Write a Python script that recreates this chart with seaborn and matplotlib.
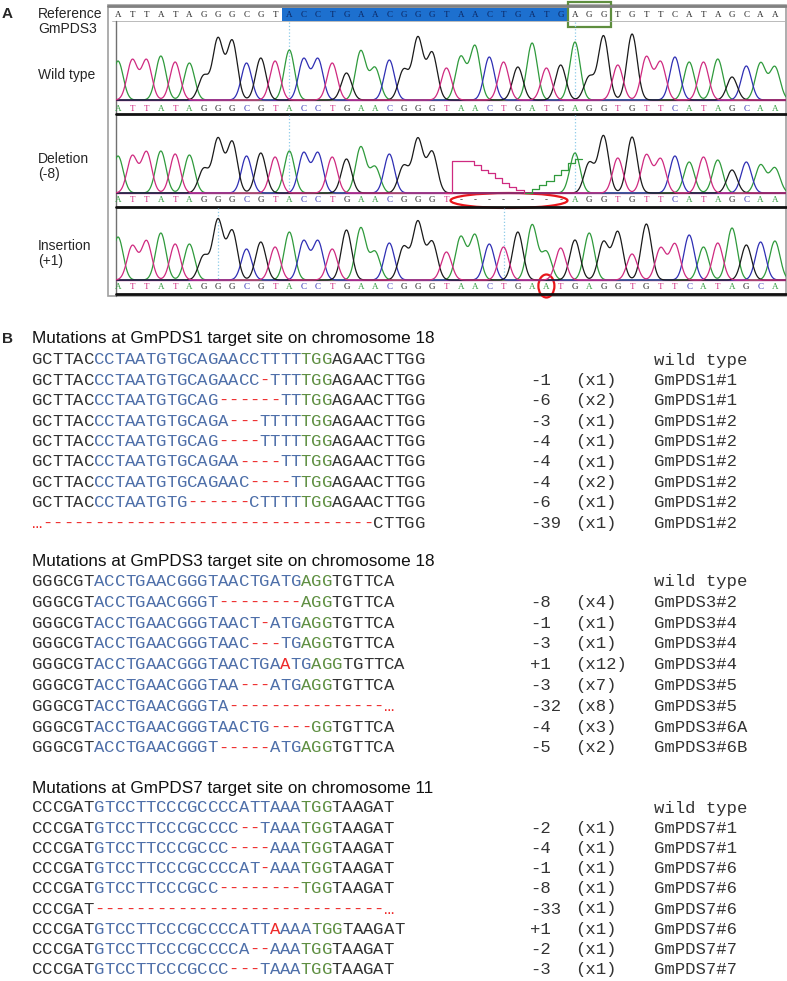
import numpy as np
import pandas as pd
import matplotlib
matplotlib.use("Agg")
import matplotlib.pyplot as plt
import seaborn as sns
from matplotlib.patches import Rectangle, Ellipse

W, H = 787, 981

# ---------- panel A: Sanger traces at the GmPDS3 target ----------
ref_seq = "ATTATAGGGCGTACCTGAACGGGTAACTGATGAGGTGTTCATAGCAA"
wt_calls = "ATTATAGGGCGTACCTGAACGGGTAACTGATGAGGTGTTCATAGCAA"
del_calls = "ATTATAGGGCGTACCTGAACGGGT--------AGGTGTTCATAGCAA"
ins_calls = "ATTATAGGGCGTACCTGAACGGGTAACTGAATGAGGTGTTCATAGCA"

# peak heights (pixels above baseline)
wt_peaks = [39, 40, 40, 44, 38, 37, 24, 61, 59, 37, 42, 39, 50, 41, 41, 37, 27, 49, 32, 40,
            30, 62, 47, 32, 43, 54, 43, 38, 33, 57, 32, 35, 58, 23, 64, 35, 66, 43, 38, 43,
            38, 38, 41, 23, 34, 37, 33]
del_peaks = [37, 37, 41, 42, 39, 38, 24, 54, 51, 37, 40, 36, 42, 40, 40, 36, 34, 46, 26, 39,
             27, 54, 41, None, None, None, None, None, None, None, None, None,
             40, 30, 57, 35, 56, 38, 34, 37, 31, 36, 33, 23, 31, 28, 25]
ins_peaks = [43, 34, 39, 47, 36, 36, 24, 60, 49, 31, 38, 33, 48, 39, 39, 31, 50, 52, 28, 37,
             33, 58, 38, 28, 43, 45, 36, 33, 48, 55, 28, 32, 40, 47, 38, 48, 26, 56, 32, 36,
             45, 33, 37, 52, 35, 38, 39]
# mixed-signal shoulders across the 8 bp deletion (half-base steps)
del_shoulder_t = [0, 32, 32, 32, 28, 23, 20, 15, 10, 6, 3, 0]
del_shoulder_a = [0, 4, 8, 12, 18, 23, 30, 34, 34]

cut_guides = [(12, 32), (12, 32), (7, 27)]

# ---------- panel B: alignments ----------
pds1_title = "Mutations at GmPDS1 target site on chromosome 18"
pds1_rows = ["GCTTACCCTAATGTGCAGAACCTTTTTGGAGAACTTGG",
             "GCTTACCCTAATGTGCAGAACC-TTTTGGAGAACTTGG",
             "GCTTACCCTAATGTGCAG------TTTGGAGAACTTGG",
             "GCTTACCCTAATGTGCAGA---TTTTTGGAGAACTTGG",
             "GCTTACCCTAATGTGCAG----TTTTTGGAGAACTTGG",
             "GCTTACCCTAATGTGCAGAA----TTTGGAGAACTTGG",
             "GCTTACCCTAATGTGCAGAAC----TTGGAGAACTTGG",
             "GCTTACCCTAATGTG------CTTTTTGGAGAACTTGG",
             "…" + "-" * 32 + "CTTGG"]
pds1_change = ["", "-1", "-6", "-3", "-4", "-4", "-4", "-6", "-39"]
pds1_count = ["", "(x1)", "(x2)", "(x1)", "(x1)", "(x1)", "(x2)", "(x1)", "(x1)"]
pds1_line = ["wild type", "GmPDS1#1", "GmPDS1#1", "GmPDS1#2", "GmPDS1#2",
             "GmPDS1#2", "GmPDS1#2", "GmPDS1#2", "GmPDS1#2"]

pds3_title = "Mutations at GmPDS3 target site on chromosome 18"
pds3_rows = ["GGGCGTACCTGAACGGGTAACTGATGAGGTGTTCA",
             "GGGCGTACCTGAACGGGT--------AGGTGTTCA",
             "GGGCGTACCTGAACGGGTAACT-ATGAGGTGTTCA",
             "GGGCGTACCTGAACGGGTAAC---TGAGGTGTTCA",
             "GGGCGTACCTGAACGGGTAACTGAaTGAGGTGTTCA",
             "GGGCGTACCTGAACGGGTAA---ATGAGGTGTTCA",
             "GGGCGTACCTGAACGGGTA" + "-" * 15 + "…",
             "GGGCGTACCTGAACGGGTAACTG----GGTGTTCA",
             "GGGCGTACCTGAACGGGT-----ATGAGGTGTTCA"]
pds3_change = ["", "-8", "-1", "-3", "+1", "-3", "-32", "-4", "-5"]
pds3_count = ["", "(x4)", "(x1)", "(x1)", "(x12)", "(x7)", "(x8)", "(x3)", "(x2)"]
pds3_line = ["wild type", "GmPDS3#2", "GmPDS3#4", "GmPDS3#4", "GmPDS3#4",
             "GmPDS3#5", "GmPDS3#5", "GmPDS3#6A", "GmPDS3#6B"]

pds7_title = "Mutations at GmPDS7 target site on chromosome 11"
pds7_rows = ["CCCGATGTCCTTCCCGCCCCATTAAATGGTAAGAT",
             "CCCGATGTCCTTCCCGCCCC--TAAATGGTAAGAT",
             "CCCGATGTCCTTCCCGCCC----AAATGGTAAGAT",
             "CCCGATGTCCTTCCCGCCCCAT-AAATGGTAAGAT",
             "CCCGATGTCCTTCCCGCC--------TGGTAAGAT",
             "CCCGAT" + "-" * 28 + "…",
             "CCCGATGTCCTTCCCGCCCCATTaAAATGGTAAGAT",
             "CCCGATGTCCTTCCCGCCCCA--AAATGGTAAGAT",
             "CCCGATGTCCTTCCCGCCC---TAAATGGTAAGAT"]
pds7_change = ["", "-2", "-4", "-1", "-8", "-33", "+1", "-2", "-3"]
pds7_count = ["", "(x1)", "(x1)", "(x1)", "(x1)", "(x1)", "(x1)", "(x1)", "(x1)"]
pds7_line = ["wild type", "GmPDS7#1", "GmPDS7#1", "GmPDS7#6", "GmPDS7#6",
             "GmPDS7#6", "GmPDS7#6", "GmPDS7#7", "GmPDS7#7"]

base_colors = {"A": "#2f9a3c", "C": "#2f2fb4", "G": "#1a1a1a", "T": "#cf2a80"}
seq_black, seq_blue, seq_green, seq_red = "#333333", "#4e6fa9", "#5f8f42", "#ee2a2a"

sns.set_theme(style="white")
plt.rcParams["font.family"] = ["Liberation Sans", "DejaVu Sans"]
MONO = ["Liberation Mono", "DejaVu Sans Mono"]
SERIF = ["Liberation Serif", "DejaVu Serif"]

fig = plt.figure(figsize=(W / 100, H / 100), dpi=100)
ax = fig.add_axes([0, 0, 1, 1])
ax.set_xlim(0, W)
ax.set_ylim(H, 0)
ax.axis("off")


def px_axes(x0, y0, x1, y1):
    a = fig.add_axes([x0 / W, 1 - y1 / H, (x1 - x0) / W, (y1 - y0) / H])
    a.patch.set_alpha(0)
    a.axis("off")
    return a


def bx(i):
    return 118 + i * 14.28


# ---------------- panel A ----------------
ax.text(2, 18, "A", fontsize=11, fontweight="bold")
ax.text(38, 18, "Reference", fontsize=10)
ax.text(38, 33, "GmPDS3", fontsize=10)
ax.text(38, 79, "Wild type", fontsize=10)
ax.text(38, 163, "Deletion", fontsize=10)
ax.text(38, 178, "(-8)", fontsize=10)
ax.text(38, 250, "Insertion", fontsize=10)
ax.text(38, 265, "(+1)", fontsize=10)

# frames
ax.add_patch(Rectangle((108, 5), 678, 291, fill=False, ec="#a0a0a0", lw=1.2))
ax.plot([108, 786], [5.5, 5.5], color="#808080", lw=2)
ax.plot([112, 786], [21, 21], color="#b0b0b0", lw=0.6)
ax.plot([116, 116], [21, 296], color="#707070", lw=1.0)
ax.add_patch(Rectangle((bx(11.5), 7.5), bx(31.5) - bx(11.5), 13.5, color="#1d70cf", lw=0))
ax.add_patch(Rectangle((bx(31.5), 1.5), bx(34.5) - bx(31.5), 25, fill=False,
                       ec="#5e8e3e", lw=1.6))
for i, ch in enumerate(ref_seq):
    col = "#0b2560" if 12 <= i < 32 else "#222222"
    ax.text(bx(i), 15, ch, fontsize=6.5, family=SERIF, ha="center", va="center", color=col)

panel_rows = [(wt_calls, wt_peaks, 22, 102, 109, 114),
              (del_calls, del_peaks, 115, 195, 200, 207),
              (ins_calls, ins_peaks, 208, 282, 287, 294)]
for k, (calls, peaks, top, bot, ylet, yline) in enumerate(panel_rows):
    # letter calls under each trace
    for i, ch in enumerate(calls):
        ax.text(bx(i), ylet, ch, fontsize=6.5, family=SERIF, ha="center", va="center",
                color=base_colors.get(ch, "#222222"))
    ax.plot([116, 786], [yline, yline], color="#111111", lw=2)
    for g in cut_guides[k]:
        ax.plot([bx(g), bx(g)], [top, bot - 2], color="#8ccbe8", lw=0.9, ls=":")

    # trace
    xs = np.linspace(-0.6, 47.2, 1600)
    frames = []
    for base in "ACGT":
        sig = np.zeros_like(xs)
        for i, (c, h) in enumerate(zip(calls, peaks)):
            if c == base and h is not None:
                sig += h * np.exp(-0.5 * ((xs - i) / 0.36) ** 2)
        frames.append(pd.DataFrame({"pos": xs, "signal": sig, "base": base}))
    df = pd.concat(frames, ignore_index=True)
    tax = px_axes(116, top, 786, bot)
    tax.set_xlim((116 - 118) / 14.28, (786 - 118) / 14.28)
    tax.set_ylim(-2, (bot - top) - 2)
    tax.axhline(0, color="#b23a8a", lw=1.0)
    sns.lineplot(data=df, x="pos", y="signal", hue="base", palette=base_colors,
                 estimator=None, sort=False, lw=0.9, legend=False, ax=tax)
    if k == 1:
        xt = 22.9 + 0.5 * np.arange(len(del_shoulder_t))
        tax.step(xt, del_shoulder_t, where="post", color=base_colors["T"], lw=0.9)
        xa = 28.5 + 0.5 * np.arange(len(del_shoulder_a))
        tax.step(xa, del_shoulder_a, where="post", color=base_colors["A"], lw=0.9)
    tax.set_xlabel("")
    tax.set_ylabel("")

ax.add_patch(Ellipse((509, 200.5), 117, 15, fill=False, ec="#e8161b", lw=1.6))
ax.add_patch(Ellipse((bx(30), 286), 16, 23, fill=False, ec="#e8161b", lw=1.6))

# ---------------- panel B ----------------
ax.text(2, 343, "B", fontsize=11, fontweight="bold")
CW = 10.34
X0 = 32


def draw_alignment(title, y_title, rows, changes, counts, lines, y0, step):
    ax.text(X0, y_title + 6, title, fontsize=12.3, color="#111111", va="baseline")
    for r, seq in enumerate(rows):
        yb = y0 + r * step + 5.5
        k = 0
        for i, ch in enumerate(seq):
            if ch in "-…":
                col = seq_red
                k += 1
            elif ch.islower():
                col = seq_red
                ch = ch.upper()
            else:
                if 6 <= k < 26:
                    col = seq_blue
                elif 26 <= k < 29:
                    col = seq_green
                else:
                    col = seq_black
                k += 1
            ax.text(X0 + i * CW, yb, ch, fontsize=12.4, family=MONO, color=col,
                    va="baseline", ha="left")
        ax.text(530, yb, changes[r], fontsize=12.4, family=MONO, color=seq_black, va="baseline")
        ax.text(575, yb, counts[r], fontsize=12.4, family=MONO, color=seq_black, va="baseline")
        ax.text(654, yb, lines[r], fontsize=12.4, family=MONO, color=seq_black, va="baseline")


draw_alignment(pds1_title, 337, pds1_rows, pds1_change, pds1_count, pds1_line, 359, 20.4)
draw_alignment(pds3_title, 560, pds3_rows, pds3_change, pds3_count, pds3_line, 580.5, 20.8)
draw_alignment(pds7_title, 787, pds7_rows, pds7_change, pds7_count, pds7_line, 807, 20.2)

fig.savefig("out.png", dpi=100)
